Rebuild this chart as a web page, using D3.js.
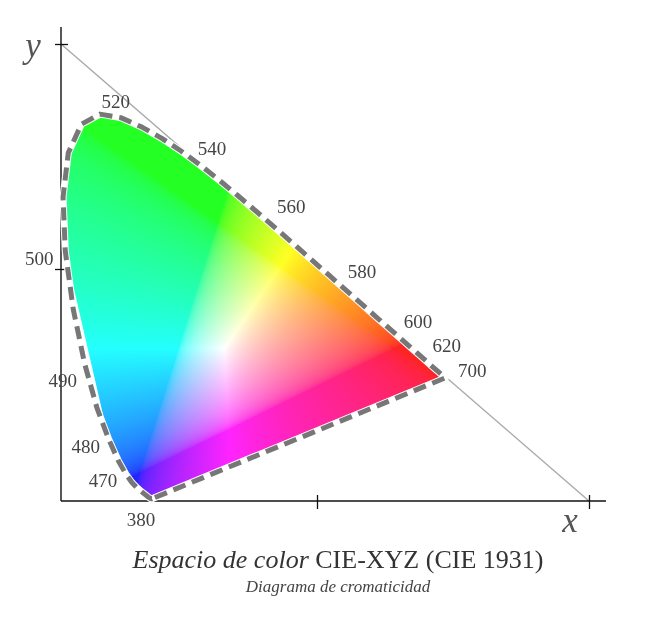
<!DOCTYPE html>
<html><head><meta charset="utf-8">
<script src="https://cdn.jsdelivr.net/npm/d3@7"></script>
<style>
html,body{margin:0;padding:0;background:#fff;}
#wrap{position:relative;width:650px;height:625px;}
canvas,svg{position:absolute;left:0;top:0;}
</style></head><body>
<div id="wrap"><canvas id="cv" width="650" height="625"></canvas><svg id="sv" width="650" height="625"></svg></div>
<script>
// ---- data: CIE 1931 2° spectral locus (chromaticity x, y) ----
const wavelengths = [380,385,390,395,400,405,410,415,420,425,430,435,440,445,450,455,460,465,470,475,480,485,490,495,500,505,510,515,520,525,530,535,540,545,550,555,560,565,570,575,580,585,590,595,600,605,610,615,620,625,630,635,640,645,650,655,660,665,670,675,680,685,690,695,700];
const locusX = [0.1741,0.1740,0.1738,0.1736,0.1733,0.1730,0.1726,0.1721,0.1714,0.1703,0.1689,0.1669,0.1644,0.1611,0.1566,0.1510,0.1440,0.1355,0.1241,0.1096,0.0913,0.0687,0.0454,0.0235,0.0082,0.0039,0.0139,0.0389,0.0743,0.1142,0.1547,0.1929,0.2296,0.2658,0.3016,0.3373,0.3731,0.4087,0.4441,0.4788,0.5125,0.5448,0.5752,0.6029,0.6270,0.6482,0.6658,0.6801,0.6915,0.7006,0.7079,0.7140,0.7190,0.7230,0.7260,0.7283,0.7300,0.7311,0.7320,0.7327,0.7334,0.7340,0.7344,0.7346,0.7347];
const locusY = [0.0050,0.0050,0.0049,0.0049,0.0048,0.0048,0.0048,0.0048,0.0051,0.0058,0.0069,0.0086,0.0109,0.0138,0.0177,0.0227,0.0297,0.0399,0.0578,0.0868,0.1327,0.2007,0.2950,0.4127,0.5384,0.6548,0.7502,0.8120,0.8338,0.8262,0.8059,0.7816,0.7543,0.7243,0.6923,0.6589,0.6245,0.5896,0.5547,0.5202,0.4866,0.4544,0.4242,0.3965,0.3725,0.3514,0.3340,0.3197,0.3083,0.2993,0.2920,0.2859,0.2809,0.2770,0.2740,0.2717,0.2700,0.2689,0.2680,0.2673,0.2666,0.2660,0.2656,0.2654,0.2653];
const labelWavelengths = [380,470,480,490,500,520,540,560,580,600,620,700];
const fillSkip = [485,490,495];          // coarser fill edge on the blue-green side
const axisTicks = [0.5, 1];
const axisNames = ["x", "y"];
const titleItalic = "Espacio de color";
const titleUpright = " CIE-XYZ (CIE 1931)";
const subtitle = "Diagrama de cromaticidad";

// ---- layout ----
const labelOffset = {380:[-11,21],470:[-23,6],480:[-23,7],490:[-22,16],500:[-26,7],520:[16,-13],540:[31,-3],560:[35,-5],580:[33,-4],600:[29,-7],620:[24,-12],700:[27,-7]};
const W = 650, H = 625;
const sx = d3.scaleLinear().domain([0,1]).range([61,584]);
const sy = d3.scaleLinear().domain([0,1]).range([501,37]);
const fx = d3.scaleLinear().domain([0,1]).range([45,589]);   // frame ticks
const fy = d3.scaleLinear().domain([0,1]).range([494,44]);
const serif = "'Liberation Serif','DejaVu Serif',serif";

const locus = wavelengths.map((w,i)=>({w, x:locusX[i], y:locusY[i]}));
const fillLocus = locus.filter(d=>!fillSkip.includes(d.w));

// ---- colour fill on canvas ----
function lin2srgb(v){ return v<=0.0031308 ? 12.92*v : 1.055*Math.pow(v,1/2.4)-0.055; }
function xyToRGB(x,y){
  const X=x/y, Y=1, Z=(1-x-y)/y;
  let r= 3.2406*X-1.5372*Y-0.4986*Z;
  let g=-0.9689*X+1.8758*Y+0.0415*Z;
  let b= 0.0557*X-0.2040*Y+1.0570*Z;
  r=Math.max(r,0); g=Math.max(g,0); b=Math.max(b,0);
  const m=Math.max(r,g,b)||1;
  const k=0.14;
  return [r,g,b].map(v=>Math.round(255*(lin2srgb(v/m)*(1-k)+k)));
}
const cv = document.getElementById('cv');
const ctx = cv.getContext('2d');
const off = document.createElement('canvas'); off.width=W; off.height=H;
const octx = off.getContext('2d');
const img = octx.createImageData(W,H);
const x0=Math.floor(sx(0)), x1=Math.ceil(sx(0.75)), y0=Math.floor(sy(0.85)), y1=Math.ceil(sy(0));
for(let py=y0; py<=y1; py++){
  for(let px=x0; px<=x1; px++){
    const cx=sx.invert(px+0.5), cy=Math.max(sy.invert(py+0.5),0.003);
    const c=xyToRGB(cx,cy);
    const idx=(py*W+px)*4;
    img.data[idx]=c[0]; img.data[idx+1]=c[1]; img.data[idx+2]=c[2]; img.data[idx+3]=255;
  }
}
octx.putImageData(img,0,0);
const lineGen = d3.line().x(d=>sx(d.x)).y(d=>sy(d.y));
const fillPath = new Path2D(lineGen(fillLocus)+"Z");
ctx.save(); ctx.clip(fillPath); ctx.drawImage(off,0,0); ctx.restore();

// ---- svg overlay ----
const svg = d3.select('#sv');

// x+y=1 guide line
svg.append('line').attr('x1',sx(0)).attr('y1',fy(1)).attr('x2',fx(1)).attr('y2',sy(0))
  .attr('stroke','#aaa').attr('stroke-width',1.4);

// axes
const gx = svg.append('g').attr('transform',`translate(0,${sy(0)})`)
  .call(d3.axisBottom(fx).tickValues(axisTicks).tickFormat('').tickSizeOuter(0));
gx.select('.domain').remove();
gx.selectAll('.tick line').attr('y1',-6).attr('y2',8).attr('stroke','#111').attr('stroke-width',1.3);
const gy = svg.append('g').attr('transform',`translate(${sx(0)},0)`)
  .call(d3.axisLeft(fy).tickValues(axisTicks).tickFormat('').tickSizeOuter(0));
gy.select('.domain').remove();
gy.selectAll('.tick line').attr('x1',-6).attr('x2',7).attr('stroke','#111').attr('stroke-width',1.3);
svg.append('line').attr('x1',sx(0)).attr('x2',606).attr('y1',sy(0)).attr('y2',sy(0)).attr('stroke','#111').attr('stroke-width',1.4);
svg.append('line').attr('x1',sx(0)).attr('x2',sx(0)).attr('y1',27).attr('y2',sy(0)).attr('stroke','#111').attr('stroke-width',1.4);

// spectral locus outline (dashed, closed by line of purples)
const outline = lineGen(locus)+"Z";
svg.append('path').attr('d',outline).attr('fill','none').attr('stroke','#fff').attr('stroke-width',7).attr('stroke-linejoin','round');
svg.append('path').attr('d',outline).attr('fill','none').attr('stroke','#777').attr('stroke-width',5)
  .attr('stroke-dasharray','13,7').attr('stroke-linejoin','round');

// wavelength labels
svg.append('g').selectAll('text').data(locus.filter(d=>labelWavelengths.includes(d.w))).join('text')
  .attr('x',d=>sx(d.x)+labelOffset[d.w][0]).attr('y',d=>sy(d.y)+labelOffset[d.w][1])
  .attr('text-anchor','middle').attr('dominant-baseline','central')
  .attr('font-family',serif).attr('font-size',19).attr('fill','#444').text(d=>d.w);

// axis names
svg.append('text').attr('x',fx(1)-19).attr('y',sy(0)+31).attr('text-anchor','middle')
  .attr('font-family',serif).attr('font-style','italic').attr('font-size',35).attr('fill','#555').text(axisNames[0]);
svg.append('text').attr('x',sx(0)-28).attr('y',fy(1)+13).attr('text-anchor','middle')
  .attr('font-family',serif).attr('font-style','italic').attr('font-size',35).attr('fill','#555').text(axisNames[1]);

// titles
const t = svg.append('text').attr('x',338).attr('y',568).attr('text-anchor','middle')
  .attr('font-family',serif).attr('font-size',26).attr('fill','#333');
t.append('tspan').attr('font-style','italic').text(titleItalic);
t.append('tspan').text(titleUpright);
svg.append('text').attr('x',338).attr('y',592).attr('text-anchor','middle')
  .attr('font-family',serif).attr('font-style','italic').attr('font-size',17).attr('fill','#444').text(subtitle);
</script>
</body></html>
